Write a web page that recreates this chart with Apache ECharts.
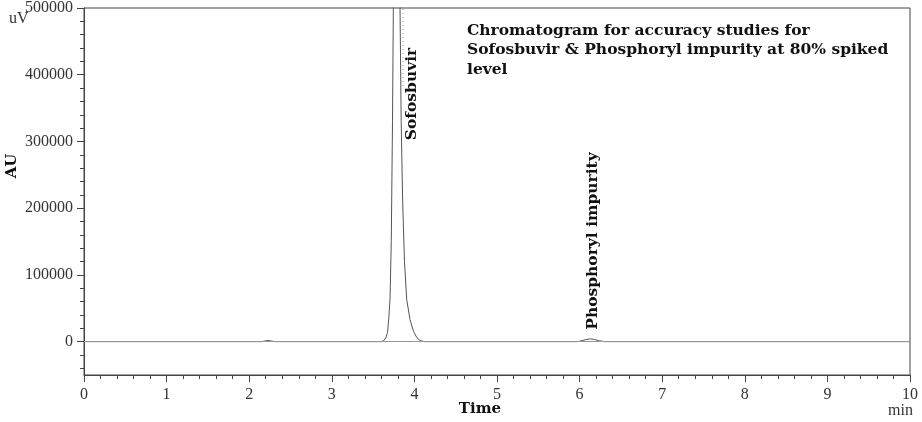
<!DOCTYPE html>
<html>
<head>
<meta charset="utf-8">
<script src="https://cdn.jsdelivr.net/npm/echarts@6/dist/echarts.min.js"></script>
<style>
  html, body { margin: 0; padding: 0; background: #fff; }
  #chart { width: 922px; height: 422px; }
</style>
</head>
<body>
<div id="chart"></div>
<script>
// retention time (min) and detector response (uV)
var times = [0, 2.15, 2.19, 2.23, 2.27, 2.31, 3.6, 3.63, 3.655, 3.675, 3.69, 3.705, 3.72, 3.735, 3.745, 3.765, 3.785,
  3.805, 3.826, 3.84, 3.858, 3.88, 3.907, 3.947, 3.99, 4.03, 4.07, 4.12, 5.98, 6.03, 6.08, 6.13, 6.18, 6.24, 6.3, 10];
var response = [0, 0, 900, 1800, 900, 0, 0, 1500, 6000, 14000, 35000, 65000, 150000, 330000, 500000, 800000, 900000,
  800000, 500000, 330000, 210000, 120000, 63000, 33000, 15000, 6000, 1500, 0, 0, 1500, 3200, 4200, 3200, 1200, 0, 0];

var yMajor = [0, 100000, 200000, 300000, 400000, 500000];
var yMinor = [-40000, -20000, 20000, 40000, 60000, 80000, 120000, 140000, 160000, 180000, 220000, 240000, 260000,
  280000, 320000, 340000, 360000, 380000, 420000, 440000, 460000, 480000];

var titleLines = ['Chromatogram for accuracy studies for', 'Sofosbuvir & Phosphoryl impurity at 80% spiked', 'level'];

var points = [];
for (var i = 0; i < times.length; i++) {
  points.push([times[i], response[i]]);
}

var chart = echarts.init(document.getElementById('chart'));
var axisFont = { fontFamily: 'Liberation Serif', fontSize: 16, color: '#333' };
var boldFont = 'DejaVu Serif';

var option = {
  animation: false,
  backgroundColor: '#fff',
  grid: { left: 84, right: 12, top: 7, bottom: 47, show: true, borderColor: '#444', borderWidth: 1 },
  xAxis: {
    type: 'value', min: 0, max: 10, interval: 1,
    axisLine: { show: true, onZero: false, lineStyle: { color: '#444', width: 1 } },
    axisTick: { show: true, length: 7, lineStyle: { color: '#444' } },
    minorTick: { show: true, splitNumber: 5, length: 4, lineStyle: { color: '#444' } },
    splitLine: { show: false },
    axisLabel: Object.assign({ margin: 12 }, axisFont)
  },
  yAxis: [{
    type: 'value', min: -50000, max: 500000,
    axisLine: { show: true, onZero: false, lineStyle: { color: '#444', width: 1 } },
    axisTick: { show: true, length: 7, customValues: yMajor, lineStyle: { color: '#444' } },
    splitLine: { show: false },
    axisLabel: Object.assign({
      margin: 11, customValues: yMajor,
      formatter: function (v) { return String(v); }
    }, axisFont)
  }, {
    type: 'value', min: -50000, max: 500000, position: 'left',
    axisLine: { show: false },
    axisTick: { show: true, length: 4, customValues: yMinor, lineStyle: { color: '#444' } },
    splitLine: { show: false },
    axisLabel: { show: false }
  }],
  series: [{
    type: 'line',
    data: points,
    yAxisIndex: 0,
    showSymbol: false,
    clip: true,
    lineStyle: { color: '#555', width: 1 },
    markLine: {
      silent: true, symbol: 'none', label: { show: false },
      lineStyle: { color: '#999', width: 1, type: 'solid' },
      data: [{ yAxis: 0 }]
    }
  }],
  graphic: [
    { type: 'text', left: 9, top: 11, style: { text: 'uV', font: '16px Liberation Serif', fill: '#333' } },
    { type: 'text', left: 888, top: 403, style: { text: 'min', font: '16px Liberation Serif', fill: '#333' } },
    { type: 'text', x: 480, y: 409, style: { text: 'Time', font: 'bold 15px ' + boldFont, fill: '#111', align: 'center', verticalAlign: 'middle' } },
    { type: 'text', x: 12, y: 166, rotation: Math.PI / 2, style: { text: 'AU', font: 'bold 15px ' + boldFont, fill: '#111', align: 'center', verticalAlign: 'middle' } },
    { type: 'text', x: 412, y: 94, rotation: Math.PI / 2, style: { text: 'Sofosbuvir', font: 'bold 15.5px ' + boldFont, fill: '#111', align: 'center', verticalAlign: 'middle' } },
    { type: 'text', x: 593, y: 241, rotation: Math.PI / 2, style: { text: 'Phosphoryl impurity', font: 'bold 15.5px ' + boldFont, fill: '#111', align: 'center', verticalAlign: 'middle' } },
    { type: 'text', left: 467, top: 21, style: { text: titleLines.join('\n'), font: 'bold 15.5px ' + boldFont, lineHeight: 19.5, fill: '#111' } },
    { type: 'line', shape: { x1: 403, y1: 9, x2: 403, y2: 88 }, style: { stroke: '#999', lineWidth: 1, lineDash: [1, 3] } }
  ]
};
chart.setOption(option);
</script>
</body>
</html>
